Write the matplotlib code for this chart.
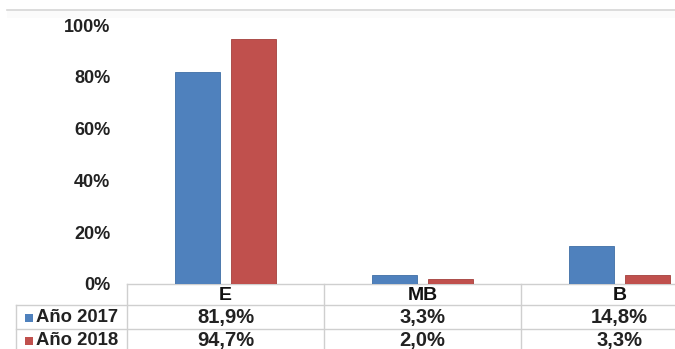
import matplotlib.pyplot as plt
import matplotlib.transforms as mtransforms
import numpy as np

categorias = ['E', 'MB', 'B']
series = ['Año 2017', 'Año 2018']
valores_2017 = [81.9, 3.3, 14.8]
valores_2018 = [94.7, 2.0, 3.3]
colores = ['#4F81BD', '#C0504D']
bordes = ['#3f6ea6', '#a43f3c']

plt.rcParams['font.family'] = ['Liberation Sans', 'DejaVu Sans']

W, H = 675, 349
fig = plt.figure(figsize=(W / 100, H / 100), dpi=100)

# capa en pixeles para la tabla (origen arriba a la izquierda)
capa = fig.add_axes([0, 0, 1, 1])
capa.set_xlim(0, W)
capa.set_ylim(H, 0)
capa.axis('off')

# area de las barras: 0% en y=284, 100% en y=25, columnas de 127 a 718
y0, y100 = 284, 25
x_izq, ancho_col = 127, 197
ax = fig.add_axes([x_izq / W, (H - y0) / H, 3 * ancho_col / W, (y0 - y100) / H])
ax.patch.set_alpha(0)

x = np.arange(len(categorias))
w = 0.225
off = 0.142
for i, vals in enumerate([valores_2017, valores_2018]):
    ax.bar(x + (2 * i - 1) * off, [v / 100 for v in vals], width=w,
           color=colores[i], edgecolor=bordes[i], linewidth=0.6, zorder=2)

ax.set_xlim(-0.5, len(categorias) - 0.5)
ax.set_ylim(0, 1)
ax.set_yticks(np.arange(0, 1.01, 0.2))
ax.set_yticklabels([f'{int(t * 100)}%' for t in np.arange(0, 1.01, 0.2)],
                   fontsize=13, fontweight='bold', color='#222222')
ax.tick_params(axis='y', length=0, pad=12)
ax.set_xticks([])
for s in ax.spines.values():
    s.set_visible(False)

# linea superior del grafico
capa.plot([7, W], [10, 10], color='#d6d6d6', lw=1.2)
capa.axhspan(11, 18, xmin=7 / W, color='#fbfbfb', lw=0, zorder=0)

# tabla de datos
gris = '#cfcfcf'
trans = mtransforms.blended_transform_factory(ax.transData, capa.transData)
filas = [284, 305, 329, 351]
for xb in np.arange(-0.5, len(categorias), 1.0):
    capa.plot([xb, xb], [filas[0], H], color=gris, lw=1, transform=trans,
              clip_on=False)
capa.plot([x_izq, W], [filas[0], filas[0]], color=gris, lw=1)
capa.plot([16, W], [filas[1], filas[1]], color=gris, lw=1)
capa.plot([16, W], [filas[2], filas[2]], color=gris, lw=1)
capa.plot([16, 16], [filas[1], H], color=gris, lw=1)

for xi, cat in zip(x, categorias):
    capa.text(xi, (filas[0] + filas[1]) / 2 + 1, cat, transform=trans,
              ha='center', va='center', fontsize=14, fontweight='bold',
              color='#111111')

for r, (nombre, vals) in enumerate(zip(series, [valores_2017, valores_2018])):
    yc = (filas[r + 1] + filas[r + 2]) / 2 + 0.5
    capa.scatter([29], [yc], marker='s', s=40, color=colores[r], lw=0)
    capa.text(36, yc, nombre, ha='left', va='center', fontsize=13.3,
              fontweight='bold', color='#222222')
    for xi, v in zip(x, vals):
        capa.text(xi, yc, f'{v:.1f}%'.replace('.', ','), transform=trans,
                  ha='center', va='center', fontsize=14.5, fontweight='bold',
                  color='#222222')

fig.savefig('out.png', dpi=100)
